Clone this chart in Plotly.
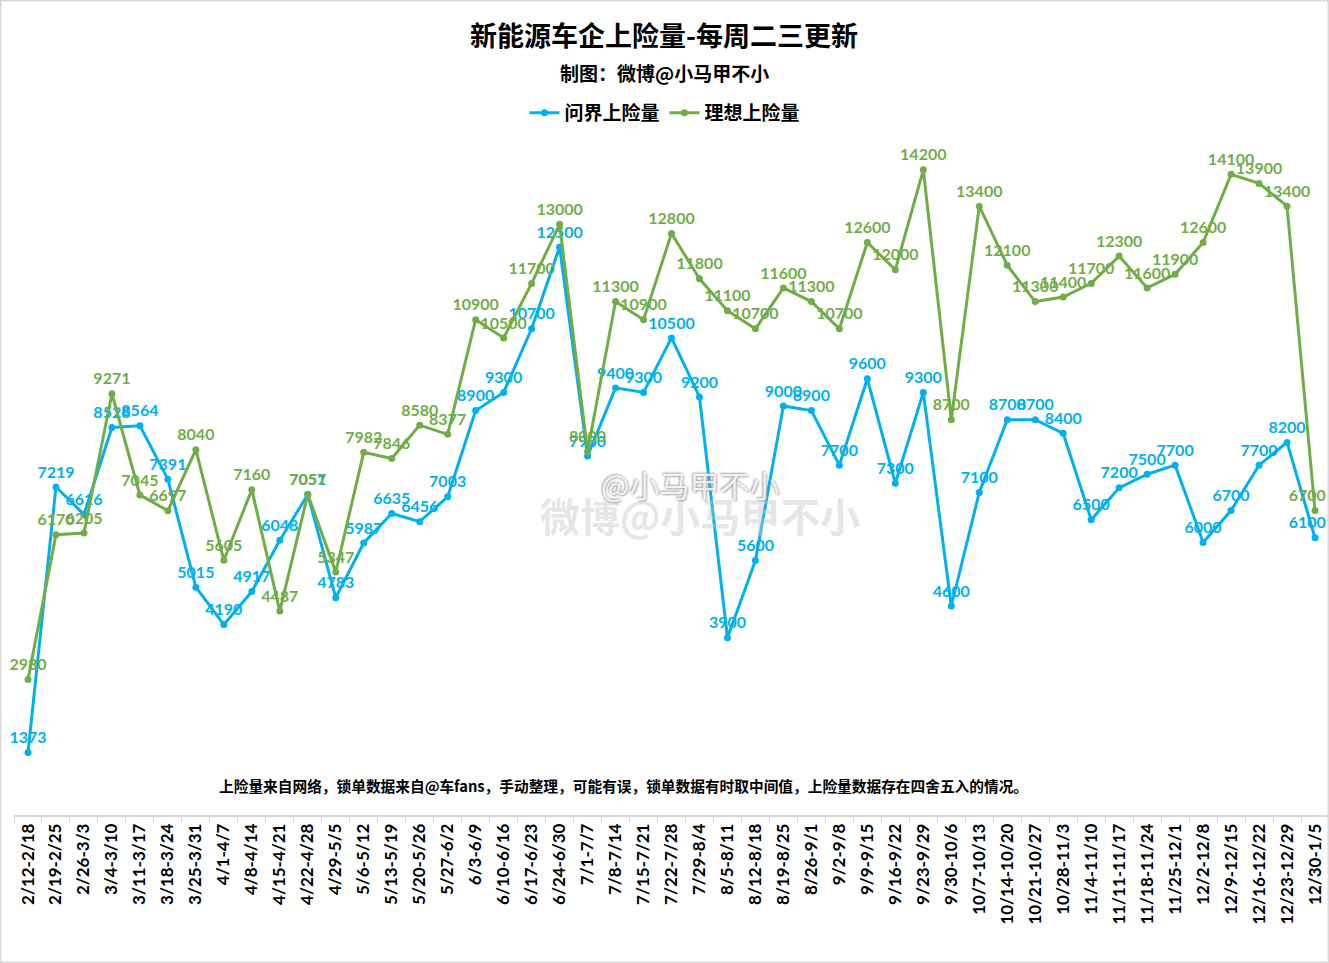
import plotly.graph_objects as go

categories = ["2/12-2/18", "2/19-2/25", "2/26-3/3", "3/4-3/10", "3/11-3/17", "3/18-3/24", "3/25-3/31",
              "4/1-4/7", "4/8-4/14", "4/15-4/21", "4/22-4/28", "4/29-5/5", "5/6-5/12", "5/13-5/19",
              "5/20-5/26", "5/27-6/2", "6/3-6/9", "6/10-6/16", "6/17-6/23", "6/24-6/30", "7/1-7/7",
              "7/8-7/14", "7/15-7/21", "7/22-7/28", "7/29-8/4", "8/5-8/11", "8/12-8/18", "8/19-8/25",
              "8/26-9/1", "9/2-9/8", "9/9-9/15", "9/16-9/22", "9/23-9/29", "9/30-10/6", "10/7-10/13",
              "10/14-10/20", "10/21-10/27", "10/28-11/3", "11/4-11/10", "11/11-11/17", "11/18-11/24",
              "11/25-12/1", "12/2-12/8", "12/9-12/15", "12/16-12/22", "12/23-12/29", "12/30-1/5"]

wenjie = [1373, 7219, 6616, 8528, 8564, 7391, 5015, 4190, 4917, 6048, 7051, 4783, 5987, 6635,
          6456, 7003, 8900, 9300, 10700, 12500, 7900, 9400, 9300, 10500, 9200, 3900, 5600, 9000,
          8900, 7700, 9600, 7300, 9300, 4600, 7100, 8700, 8700, 8400, 6500, 7200, 7500,
          7700, 6000, 6700, 7700, 8200, 6100]

lixiang = [2980, 6170, 6205, 9271, 7045, 6697, 8040, 5605, 7160, 4487, 7057, 5347, 7982, 7846,
           8580, 8377, 10900, 10500, 11700, 13000, 8000, 11300, 10900, 12800, 11800, 11100, 10700, 11600,
           11300, 10700, 12600, 12000, 14200, 8700, 13400, 12100, 11300, 11400, 11700, 12300, 11600,
           11900, 12600, 14100, 13900, 13400, 6700]

series_names = ["问界上险量", "理想上险量"]
title_text = "新能源车企上险量-每周二三更新"
subtitle_text = "制图：微博@小马甲不小"
note_text = "上险量来自网络，锁单数据来自@车fans，手动整理，可能有误，锁单数据有时取中间值，上险量数据存在四舍五入的情况。"

BLUE = "#00B0F0"
GREEN = "#70AD47"
NUM_FONT = "Lato, 'Noto Sans CJK SC', sans-serif"
CJK_FONT = "'Noto Sans CJK SC', sans-serif"

def labels(vals):
    out = [str(v) for v in vals]
    out[-1] = out[-1] + "\u00a0" * 4  # keep the last label inside the chart edge
    return out

fig = go.Figure()
for name, vals, col in [(series_names[0], wenjie, BLUE), (series_names[1], lixiang, GREEN)]:
    fig.add_trace(go.Scatter(
        x=categories, y=vals, name=name, mode="lines+markers+text",
        line=dict(color=col, width=3),
        marker=dict(color=col, size=7),
        text=labels(vals), textposition="top center",
        textfont=dict(family=NUM_FONT, size=16, color=col, weight="bold"),
        cliponaxis=False,
    ))

PLOT_TOP, PLOT_H, PLOT_L, PLOT_W = 88, 727, 14, 1315
def py(y): return (PLOT_TOP + PLOT_H - y) / PLOT_H
def px(x): return (x - PLOT_L) / PLOT_W

def ann(text, x, y, size, color="#000000", weight="bold", shadow=None):
    f = dict(family=CJK_FONT, size=size, color=color, weight=weight)
    if shadow:
        f["shadow"] = shadow
    return dict(text=text, xref="paper", yref="paper", x=px(x), y=py(y), xanchor="center",
                yanchor="middle", showarrow=False, font=f)

fig.update_layout(
    width=1329, height=963,
    paper_bgcolor="white", plot_bgcolor="white",
    margin=dict(l=14, r=0, t=88, b=148),
    showlegend=True,
    legend=dict(orientation="h", x=px(665), xanchor="center", y=py(113), yanchor="middle",
                font=dict(family=CJK_FONT, size=19, color="#000000", weight="bold"),
                bgcolor="rgba(0,0,0,0)"),
    xaxis=dict(type="category", range=[-0.5, len(categories) - 0.5], showgrid=False,
               showline=True, linecolor="#D9D9D9", linewidth=1.5,
               ticks="outside", tickson="boundaries", ticklen=6, tickcolor="#D9D9D9",
               tickangle=-90,
               tickfont=dict(family=NUM_FONT, size=17, color="#000000", weight="bold")),
    yaxis=dict(range=[0, 16000], showgrid=False, showline=False, showticklabels=False,
               zeroline=False, ticks=""),
    annotations=[
        ann(title_text, 664, 35, 27),
        ann(subtitle_text, 664, 73, 19),
        ann(note_text, 623, 785, 14.7),
        ann("微博@小马甲不小", 700, 515, 40, color="rgba(200,200,200,0.45)"),
        ann("@小马甲不小", 690, 484, 30, color="rgba(255,255,255,0.85)", weight="normal",
            shadow="1px 1px 2px #999, -1px -1px 2px #999"),
    ],
    shapes=[dict(type="rect", xref="paper", yref="paper", x0=px(0.75), x1=px(1328.25),
                 y0=py(962.25), y1=py(0.75), line=dict(color="#D9D9D9", width=1.5),
                 fillcolor="rgba(0,0,0,0)", layer="below")],
)

fig.write_html("out.html", config={"displayModeBar": False},
               post_script="document.body.style.margin='0';document.body.style.overflow='hidden';")
